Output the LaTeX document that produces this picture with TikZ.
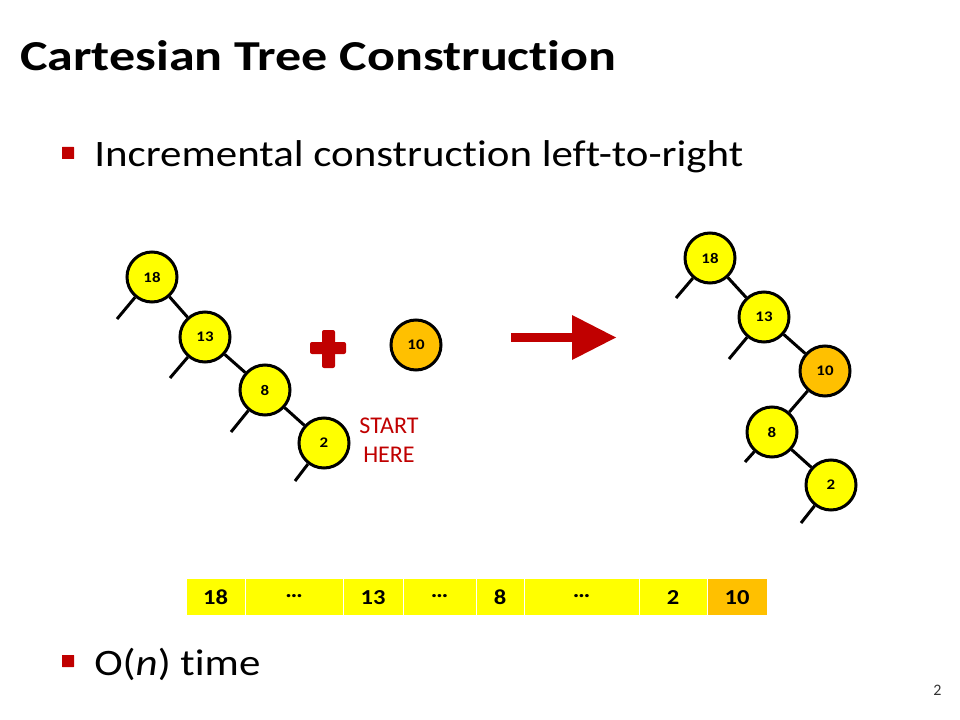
\documentclass[tikz,border=0pt]{standalone}
\usepackage{fontspec}
\setmainfont{Carlito}[Ligatures=NoCommon]
\newfontfamily\titlefont{Carlito}[FakeStretch=1.22,Ligatures=NoCommon]
\newfontfamily\widefont{Carlito}[FakeStretch=1.15,Ligatures=NoCommon]
\usetikzlibrary{calc}
\definecolor{slred}{HTML}{C00000}
\definecolor{ylw}{HTML}{FFFF00}
\definecolor{org}{HTML}{FFC000}
\begin{document}
\begin{tikzpicture}[x=0.75pt,y=-0.75pt,
  tn/.style={circle,draw=black,line width=2.25pt,fill=ylw,minimum size=37.5pt,inner sep=0pt,font=\widefont\fontsize{11}{13}\selectfont\bfseries},
  tno/.style={tn,fill=org},
  treeline/.style={line width=2.25pt,black},
  cell/.style={rectangle,fill=ylw,draw=white,line width=0.75pt,minimum height=27.75pt,inner sep=0pt,text height=11.5pt,text depth=0pt,font=\widefont\fontsize{16}{19}\selectfont\bfseries},
  cello/.style={cell,fill=org},
  dots/.style={cell},
  bulletsq/.style={fill=slred,rounded corners=0.3pt},
  bullettext/.style={anchor=base west,inner sep=0pt,font=\widefont\fontsize{28}{34}\selectfont},
  redtext/.style={anchor=base,inner sep=0pt,text=slred,font=\fontsize{18}{22}\selectfont}]
\useasboundingbox (0,0) rectangle (960,720);
\fill[white] (0,0) rectangle (960,720);

% title
\node[anchor=base west,inner sep=0pt,font=\titlefont\fontsize{32}{38}\selectfont\bfseries] (title) at (20,71) {Cartesian Tree Construction};

% bullets
\fill[bulletsq] (62,147) rectangle (74,159);
\node[bullettext] (b1) at (94,167) {Incremental construction left-to-right};
\fill[bulletsq] (62,655) rectangle (74,667);
\node[bullettext] (b2) at (94,675) {O(\textit{n}) time};

% page number
\node[anchor=base,inner sep=0pt,font=\fontsize{12}{14}\selectfont,text=black!80] (pg) at (937.5,695) {2};

% left tree
\node[tn] (L18) at (152,277) {18};
\node[tn] (L13) at (205,337) {13};
\node[tn] (L8) at (265,390) {8};
\node[tn] (L2) at (324,443) {2};
\node[tno] (N10) at (416,345) {10};
\draw[treeline] (L18) -- (L13);
\draw[treeline] (L13) -- (L8);
\draw[treeline] (L8) -- (L2);
\coordinate (sL18) at ($(L18)+(-35,42)$);
\coordinate (sL13) at ($(L13)+(-35,41)$);
\coordinate (sL8) at ($(L8)+(-34,42)$);
\coordinate (sL2) at ($(L2)+(-29,38)$);
\draw[treeline] (L18) -- (sL18);
\draw[treeline] (L13) -- (sL13);
\draw[treeline] (L8) -- (sL8);
\draw[treeline] (L2) -- (sL2);

% plus
\fill[slred,rounded corners=1.5pt] (310,342) rectangle (346,354);
\fill[slred,rounded corners=1.5pt] (322,330) rectangle (335,368);

% START HERE
\node[redtext] (start) at (389,433) {START};
\node[redtext] (here) at (389,462) {HERE};

% arrow
\fill[slred] (511,333) rectangle (573,342);
\fill[slred] (572,315) -- (616,337.5) -- (572,360) -- cycle;

% right tree
\node[tn] (R18) at (710,258) {18};
\node[tn] (R13) at (764,317) {13};
\node[tno] (R10) at (825,371) {10};
\node[tn] (R8) at (772,432) {8};
\node[tn] (R2) at (831,485) {2};
\draw[treeline] (R18) -- (R13);
\draw[treeline] (R13) -- (R10);
\draw[treeline] (R10) -- (R8);
\draw[treeline] (R8) -- (R2);
\coordinate (sR18) at ($(R18)+(-34,40)$);
\coordinate (sR13) at ($(R13)+(-35,42)$);
\coordinate (sR8) at ($(R8)+(-27,30)$);
\coordinate (sR2) at ($(R2)+(-30,38)$);
\draw[treeline] (R18) -- (sR18);
\draw[treeline] (R13) -- (sR13);
\draw[treeline] (R8) -- (sR8);
\draw[treeline] (R2) -- (sR2);

% array
\node[cell,minimum width=44.25pt] (c1) at (215.5,596.5) {18};
\node[dots,minimum width=73.5pt] (c2) at (294,596.5) {\raisebox{0.3em}{…}};
\node[cell,minimum width=45pt] (c3) at (373,596.5) {13};
\node[dots,minimum width=54.75pt] (c4) at (439.5,596.5) {\raisebox{0.3em}{…}};
\node[cell,minimum width=36pt] (c5) at (500,596.5) {8};
\node[dots,minimum width=86.25pt] (c6) at (581.5,596.5) {\raisebox{0.3em}{…}};
\node[cell,minimum width=51pt] (c7) at (673,596.5) {2};
\node[cello,minimum width=45pt] (c8) at (737,596.5) {10};
\end{tikzpicture}
\end{document}
